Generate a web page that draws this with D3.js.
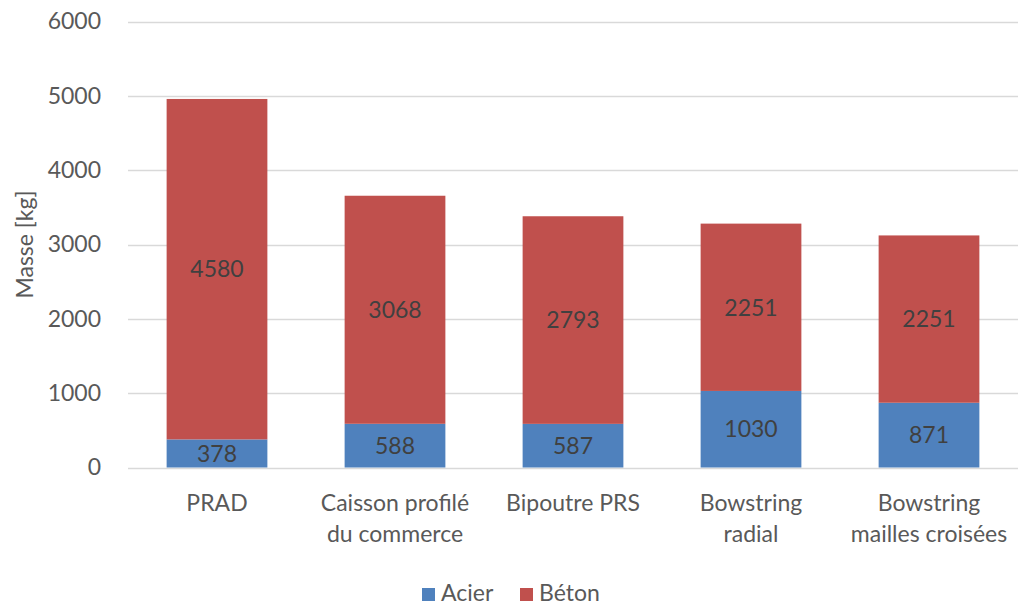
<!DOCTYPE html>
<html>
<head>
<meta charset="utf-8">
<script src="https://cdn.jsdelivr.net/npm/d3@7"></script>
<style>
  body { margin: 0; background: #fff; }
  text { font-family: "Lato", "Liberation Sans", sans-serif; fill: #595959; }
</style>
</head>
<body>
<div id="chart"></div>
<script>
// categories (each split on two lines like the original)
var categories = [
  ["PRAD"],
  ["Caisson profilé", "du commerce"],
  ["Bipoutre PRS"],
  ["Bowstring", "radial"],
  ["Bowstring", "mailles croisées"]
];
var acier = [378, 588, 587, 1030, 871];
var beton = [4580, 3068, 2793, 2251, 2251];
var yTicks = [0, 1000, 2000, 3000, 4000, 5000, 6000];
var seriesNames = ["Acier", "Béton"];
var seriesColors = ["#4F81BD", "#C0504D"];

var width = 1018, height = 607;
var margin = {top: 21.5, right: 0, bottom: 139.5, left: 128};
var fontSize = "23px";

var svg = d3.select("#chart").append("svg")
            .attr("width", width)
            .attr("height", height);

// build rows for the stack
var rows = categories.map(function(c, i) {
  return {key: i, Acier: acier[i], "Béton": beton[i]};
});
var stack = d3.stack().keys(seriesNames);
var layers = stack(rows);

var x = d3.scaleBand()
          .domain(d3.range(categories.length))
          .range([margin.left, width - margin.right])
          .paddingInner(0.434)
          .paddingOuter(0.217);

var y = d3.scaleLinear()
          .domain([0, 6000])
          .range([height - margin.bottom, margin.top]);

// gridlines
svg.append("g")
   .selectAll("line")
   .data(yTicks)
   .enter().append("line")
   .attr("x1", margin.left)
   .attr("x2", width - margin.right)
   .attr("y1", function(d) { return Math.round(y(d)) + 0.5; })
   .attr("y2", function(d) { return Math.round(y(d)) + 0.5; })
   .style("stroke", "#d9d9d9")
   .style("stroke-width", 1.3);

// y axis labels
var yAxis = svg.append("g")
   .attr("transform", "translate(" + margin.left + ",0)")
   .call(d3.axisLeft(y).tickValues(yTicks).tickSize(0).tickPadding(27).tickFormat(d3.format("d")));
yAxis.select(".domain").remove();
yAxis.selectAll("text")
     .style("font-size", fontSize)
     .style("font-family", "Lato, 'Liberation Sans', sans-serif")
     .attr("fill", "#595959");

// y title
svg.append("text")
   .attr("transform", "translate(33," + (y(3000)) + ") rotate(-90)")
   .attr("text-anchor", "middle")
   .style("font-size", fontSize)
   .text("Masse [kg]");

// bars
var groups = svg.append("g")
   .selectAll("g")
   .data(layers)
   .enter().append("g")
   .attr("fill", function(d, i) { return seriesColors[i]; });

groups.selectAll("rect")
   .data(function(d) { return d; })
   .enter().append("rect")
   .attr("x", function(d, i) { return x(i); })
   .attr("width", x.bandwidth())
   .attr("y", function(d) { return y(d[1]); })
   .attr("height", function(d) { return y(d[0]) - y(d[1]); });

// data labels
groups.selectAll("text")
   .data(function(d) { return d; })
   .enter().append("text")
   .attr("x", function(d, i) { return x(i) + x.bandwidth() / 2; })
   .attr("y", function(d) { return (y(d[0]) + y(d[1])) / 2; })
   .attr("dy", "0.36em")
   .attr("text-anchor", "middle")
   .style("font-size", fontSize)
   .style("fill", "#404040")
   .text(function(d) { return d[1] - d[0]; });

// category labels
var cat = svg.append("g")
   .selectAll("text")
   .data(categories)
   .enter().append("text")
   .attr("text-anchor", "middle")
   .attr("x", function(d, i) { return x(i) + x.bandwidth() / 2; })
   .attr("y", 511)
   .style("font-size", fontSize);
cat.selectAll("tspan")
   .data(function(d) { return d; })
   .enter().append("tspan")
   .attr("x", function() { return d3.select(this.parentNode).attr("x"); })
   .attr("dy", function(d, i) { return i === 0 ? 0 : 31; })
   .text(function(d) { return d; });

// legend
var legendX = [422, 520];
var legend = svg.append("g")
   .selectAll("g")
   .data(seriesNames)
   .enter().append("g")
   .attr("transform", function(d, i) { return "translate(" + legendX[i] + ",588)"; });
legend.append("rect")
   .attr("width", 13)
   .attr("height", 13)
   .attr("fill", function(d, i) { return seriesColors[i]; });
legend.append("text")
   .attr("x", 19)
   .attr("y", 13)
   .style("font-size", fontSize)
   .text(function(d) { return d; });
</script>
</body>
</html>
